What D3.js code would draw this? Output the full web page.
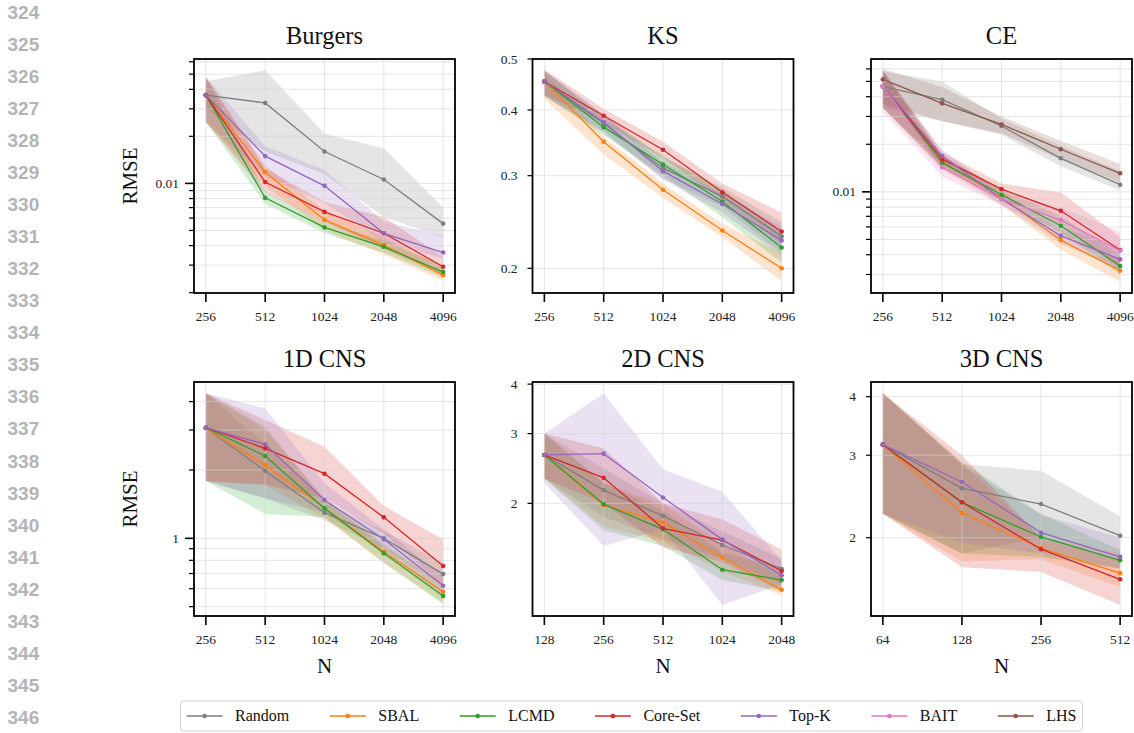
<!DOCTYPE html>
<html>
<head>
<meta charset="utf-8">
<script src="https://cdn.jsdelivr.net/npm/d3@7"></script>
<style>
  body { margin: 0; background: #fff; }
  svg { display: block; }
</style>
</head>
<body>
<svg id="fig" width="1134" height="733"></svg>
<script>
// ---- methods (legend order) ----
const methods = ["Random", "SBAL", "LCMD", "Core-Set", "Top-K", "BAIT", "LHS"];
const methodColors = ["#7f7f7f", "#ff7f0e", "#2ca02c", "#d62728", "#9467bd", "#e377c2", "#8c564b"];

const panelTitles = ["Burgers", "KS", "CE", "1D CNS", "2D CNS", "3D CNS"];

// ---- training-set sizes ----
const burgersN = [256, 512, 1024, 2048, 4096];
const ksN = [256, 512, 1024, 2048, 4096];
const ceN = [256, 512, 1024, 2048, 4096];
const cns1dN = [256, 512, 1024, 2048, 4096];
const cns2dN = [128, 256, 512, 1024, 2048];
const cns3dN = [64, 128, 256, 512];

// ---- RMSE: rows follow `methods`; null = method not run ----
const burgersMean = [
  [0.0367, 0.0327, 0.0160, 0.0106, 0.00553],
  [0.0367, 0.0118, 0.00584, 0.00403, 0.00259],
  [0.0367, 0.00808, 0.00523, 0.00393, 0.00271],
  [0.0367, 0.0102, 0.00657, 0.0048, 0.00293],
  [0.0367, 0.01495, 0.00965, 0.00479, 0.00361],
  null, null
];
const burgersLow = [
  [0.030, 0.016, 0.0115, 0.0061, 0.0045],
  [0.0247, 0.0097, 0.0050, 0.0035, 0.00238],
  [0.0247, 0.0074, 0.0048, 0.0036, 0.0025],
  [0.0247, 0.0087, 0.0057, 0.0038, 0.0026],
  [0.0247, 0.0112, 0.0075, 0.0042, 0.0033],
  null, null
];
const burgersHigh = [
  [0.045, 0.053, 0.0208, 0.0168, 0.0070],
  [0.048, 0.0130, 0.0067, 0.0045, 0.0029],
  [0.048, 0.0088, 0.0057, 0.0043, 0.0030],
  [0.048, 0.0125, 0.0076, 0.0061, 0.0034],
  [0.048, 0.0173, 0.0122, 0.0057, 0.0046],
  null, null
];

const ksMean = [
  [0.453, 0.377, 0.310, 0.274, 0.230],
  [0.453, 0.348, 0.282, 0.236, 0.200],
  [0.453, 0.371, 0.315, 0.268, 0.219],
  [0.453, 0.390, 0.336, 0.279, 0.235],
  [0.453, 0.379, 0.306, 0.265, 0.226],
  null, null
];
const ksLow = [
  [0.425, 0.362, 0.296, 0.262, 0.214],
  [0.420, 0.329, 0.272, 0.229, 0.189],
  [0.425, 0.358, 0.300, 0.250, 0.205],
  [0.428, 0.378, 0.324, 0.270, 0.222],
  [0.425, 0.365, 0.295, 0.255, 0.212],
  null, null
];
const ksHigh = [
  [0.475, 0.392, 0.325, 0.285, 0.245],
  [0.470, 0.356, 0.290, 0.243, 0.214],
  [0.475, 0.385, 0.328, 0.282, 0.235],
  [0.478, 0.402, 0.348, 0.290, 0.255],
  [0.475, 0.392, 0.318, 0.277, 0.240],
  null, null
];

const ceMean = [
  [0.0463, 0.0383, 0.0261, 0.0163, 0.0111],
  [0.0467, 0.0155, 0.0092, 0.00495, 0.00317],
  [0.0467, 0.0153, 0.00958, 0.0061, 0.00339],
  [0.0467, 0.0161, 0.0104, 0.00759, 0.00428],
  [0.0467, 0.01685, 0.0090, 0.00527, 0.00374],
  [0.0467, 0.0143, 0.0090, 0.00663, 0.00424],
  [0.0515, 0.0363, 0.0267, 0.0186, 0.0131]
];
const ceLow = [
  [0.034, 0.028, 0.023, 0.0145, 0.0102],
  [0.034, 0.0138, 0.0083, 0.0043, 0.0027],
  [0.034, 0.0140, 0.0088, 0.0055, 0.0030],
  [0.034, 0.0145, 0.0094, 0.0062, 0.0033],
  [0.034, 0.0150, 0.0083, 0.0047, 0.0032],
  [0.032, 0.0125, 0.0082, 0.0055, 0.0032],
  [0.036, 0.028, 0.0235, 0.016, 0.0115]
];
const ceHigh = [
  [0.058, 0.050, 0.029, 0.0195, 0.0135],
  [0.058, 0.0172, 0.0102, 0.0058, 0.0037],
  [0.058, 0.0168, 0.0105, 0.0070, 0.0040],
  [0.059, 0.0178, 0.0113, 0.0099, 0.0052],
  [0.058, 0.0185, 0.0098, 0.0060, 0.0044],
  [0.057, 0.0160, 0.0098, 0.0080, 0.0056],
  [0.060, 0.046, 0.030, 0.021, 0.0150]
];

const cns1dMean = [
  [3.07, 1.98, 1.297, 1.0, 0.696],
  [3.07, 2.10, 1.36, 0.873, 0.582],
  [3.07, 2.305, 1.355, 0.859, 0.557],
  [3.07, 2.49, 1.926, 1.237, 0.755],
  [3.07, 2.595, 1.475, 0.99, 0.618],
  null, null
];
const cns1dLow = [
  [1.79, 1.50, 1.20, 0.90, 0.62],
  [1.79, 1.72, 1.22, 0.78, 0.52],
  [1.79, 1.28, 1.245, 0.78, 0.513],
  [1.79, 1.72, 1.50, 1.05, 0.62],
  [1.79, 1.50, 1.30, 0.88, 0.56],
  null, null
];
const cns1dHigh = [
  [4.35, 2.60, 1.45, 1.08, 0.78],
  [4.35, 3.0, 1.50, 0.95, 0.64],
  [4.35, 3.1, 1.48, 0.93, 0.62],
  [4.35, 3.32, 2.53, 1.388, 0.99],
  [4.35, 3.74, 1.75, 1.10, 0.68],
  null, null
];

const cns2dMean = [
  [2.65, 2.16, 1.86, 1.57, 1.366],
  [2.65, 1.98, 1.79, 1.46, 1.21],
  [2.65, 1.99, 1.72, 1.36, 1.28],
  [2.65, 2.32, 1.73, 1.616, 1.35],
  [2.65, 2.67, 2.07, 1.62, 1.316],
  null, null
];
const cns2dLow = [
  [2.31, 1.85, 1.62, 1.45, 1.25],
  [2.31, 1.75, 1.60, 1.35, 1.17],
  [2.31, 1.71, 1.56, 1.28, 1.20],
  [2.31, 2.00, 1.55, 1.42, 1.20],
  [2.25, 1.56, 1.72, 1.107, 1.25],
  null, null
];
const cns2dHigh = [
  [3.0, 2.45, 2.0, 1.70, 1.45],
  [3.0, 2.25, 1.98, 1.58, 1.30],
  [3.0, 2.25, 1.92, 1.50, 1.38],
  [3.0, 2.75, 2.0, 1.82, 1.53],
  [3.0, 3.79, 2.44, 2.14, 1.43],
  null, null
];

const cns3dMean = [
  [3.16, 2.55, 2.36, 2.02],
  [3.16, 2.26, 1.90, 1.68],
  [3.16, 2.38, 2.007, 1.79],
  [3.16, 2.38, 1.89, 1.63],
  [3.16, 2.63, 2.05, 1.82],
  null, null
];
const cns3dLow = [
  [2.25, 1.85, 2.0, 1.85],
  [2.25, 1.78, 1.80, 1.57],
  [2.25, 1.85, 1.82, 1.72],
  [2.25, 1.73, 1.69, 1.436],
  [2.25, 1.95, 1.85, 1.72],
  null, null
];
const cns3dHigh = [
  [4.07, 2.87, 2.78, 2.22],
  [4.07, 2.88, 2.00, 1.80],
  [4.07, 2.90, 2.25, 1.88],
  [4.07, 3.0, 2.0, 1.85],
  [4.07, 2.85, 2.24, 2.0],
  null, null
];

// ---- y-axis ranges and labelled ticks ----
const burgersYDomain = [0.00199, 0.0625];
const ksYDomain = [0.1795, 0.5];
const ceYDomain = [0.00229, 0.0693];
const cns1dYDomain = [0.455, 4.88];
const cns2dYDomain = [1.039, 4.05];
const cns3dYDomain = [1.361, 4.30];

const burgersYLabels = [0.01];
const ksYLabels = [0.2, 0.3, 0.4, 0.5];
const ceYLabels = [0.01];
const cns1dYLabels = [1];
const cns2dYLabels = [2, 3, 4];
const cns3dYLabels = [2, 3, 4];

// ---- line numbers in the page margin ----
const lineNumbers = d3.range(324, 347);

// ================= drawing =================
const panels = [
  { title: panelTitles[0], n: burgersN, mean: burgersMean, low: burgersLow, high: burgersHigh, yDomain: burgersYDomain, yLabels: burgersYLabels },
  { title: panelTitles[1], n: ksN, mean: ksMean, low: ksLow, high: ksHigh, yDomain: ksYDomain, yLabels: ksYLabels },
  { title: panelTitles[2], n: ceN, mean: ceMean, low: ceLow, high: ceHigh, yDomain: ceYDomain, yLabels: ceYLabels },
  { title: panelTitles[3], n: cns1dN, mean: cns1dMean, low: cns1dLow, high: cns1dHigh, yDomain: cns1dYDomain, yLabels: cns1dYLabels },
  { title: panelTitles[4], n: cns2dN, mean: cns2dMean, low: cns2dLow, high: cns2dHigh, yDomain: cns2dYDomain, yLabels: cns2dYLabels },
  { title: panelTitles[5], n: cns3dN, mean: cns3dMean, low: cns3dLow, high: cns3dHigh, yDomain: cns3dYDomain, yLabels: cns3dYLabels }
];

const svg = d3.select("#fig");
const SERIF = "'Liberation Serif', 'Times New Roman', serif";
const colLeft = [194, 532.5, 871];
const rowTop = [59, 382];
const panelW = 261;
const panelH = 234;

// margin line numbers
svg.append("g")
  .selectAll("text")
  .data(lineNumbers)
  .join("text")
  .attr("x", 7.5)
  .attr("y", (d, i) => 12 + i * 32.05)
  .attr("dy", "0.36em")
  .attr("font-family", "'Liberation Sans', Arial, sans-serif")
  .attr("font-weight", "bold")
  .attr("font-size", 19)
  .attr("fill", "#b4b4b4")
  .text(d => d);

const fmtTick = v => d3.format("~g")(v);

panels.forEach((p, pi) => {
  const col = pi % 3, row = Math.floor(pi / 3);
  const left = colLeft[col], top = rowTop[row];
  const g = svg.append("g");

  // x: log2 spacing with 5% padding on each side
  const l0 = Math.log2(p.n[0]), l1 = Math.log2(p.n[p.n.length - 1]);
  const pad = 0.05 * (l1 - l0);
  const x = d3.scaleLog().base(2)
    .domain([Math.pow(2, l0 - pad), Math.pow(2, l1 + pad)])
    .range([left, left + panelW]);
  const y = d3.scaleLog()
    .domain(p.yDomain)
    .range([top + panelH, top]);

  // log ticks: decades (major) and 2..9 multiples (minor)
  const d0 = Math.floor(Math.log10(p.yDomain[0])), d1 = Math.ceil(Math.log10(p.yDomain[1]));
  const yTicks = [];
  for (let d = d0; d <= d1; d++) {
    for (let k = 1; k <= 9; k++) {
      const v = +(k * Math.pow(10, d)).toPrecision(6);
      if (v >= p.yDomain[0] * 0.999 && v <= p.yDomain[1] * 1.001) yTicks.push({ v, major: k === 1 });
    }
  }

  const clipId = "clip" + pi;
  g.append("clipPath").attr("id", clipId)
    .append("rect").attr("x", left).attr("y", top).attr("width", panelW).attr("height", panelH);

  const body = g.append("g").attr("clip-path", `url(#${clipId})`);

  // confidence bands
  const area = d3.area()
    .x(d => x(d.n))
    .y0(d => y(d.lo))
    .y1(d => y(d.hi));
  p.mean.forEach((m, mi) => {
    if (!m) return;
    const pts = p.n.map((n, i) => ({ n, lo: p.low[mi][i], hi: p.high[mi][i] }));
    body.append("path")
      .attr("d", area(pts))
      .attr("fill", methodColors[mi])
      .attr("fill-opacity", 0.2)
      .attr("stroke", "none");
  });

  // grid
  const grid = body.append("g").attr("stroke", "#d4d4d4").attr("stroke-width", 0.8).attr("stroke-opacity", 0.75);
  yTicks.forEach(t => {
    grid.append("line")
      .attr("x1", left).attr("x2", left + panelW)
      .attr("y1", y(t.v)).attr("y2", y(t.v));
  });
  p.n.forEach(n => {
    grid.append("line")
      .attr("x1", x(n)).attr("x2", x(n))
      .attr("y1", top).attr("y2", top + panelH);
  });

  // mean curves with markers
  const line = d3.line().x(d => x(d.n)).y(d => y(d.v));
  p.mean.forEach((m, mi) => {
    if (!m) return;
    const pts = p.n.map((n, i) => ({ n, v: m[i] }));
    body.append("path")
      .attr("d", line(pts))
      .attr("fill", "none")
      .attr("stroke", methodColors[mi])
      .attr("stroke-width", 1.3);
    body.append("g").selectAll("circle")
      .data(pts)
      .join("circle")
      .attr("cx", d => x(d.n))
      .attr("cy", d => y(d.v))
      .attr("r", 2.3)
      .attr("fill", methodColors[mi]);
  });

  // frame
  g.append("rect")
    .attr("x", left).attr("y", top)
    .attr("width", panelW).attr("height", panelH)
    .attr("fill", "none")
    .attr("stroke", "#000")
    .attr("stroke-width", 1.8);

  // y ticks
  yTicks.forEach(t => {
    const len = t.major ? 9 : 5;
    g.append("line")
      .attr("x1", left - len).attr("x2", left)
      .attr("y1", y(t.v)).attr("y2", y(t.v))
      .attr("stroke", "#000").attr("stroke-width", t.major ? 1.6 : 1.2);
  });
  p.yLabels.forEach(v => {
    g.append("text")
      .attr("x", left - 15)
      .attr("y", y(v))
      .attr("dy", "0.34em")
      .attr("text-anchor", "end")
      .attr("font-family", SERIF)
      .attr("font-size", 13.5)
      .attr("fill", "#222")
      .text(fmtTick(v));
  });

  // x ticks
  p.n.forEach(n => {
    g.append("line")
      .attr("x1", x(n)).attr("x2", x(n))
      .attr("y1", top + panelH).attr("y2", top + panelH + 9)
      .attr("stroke", "#000").attr("stroke-width", 1.6);
    g.append("text")
      .attr("x", x(n))
      .attr("y", top + panelH + 28)
      .attr("text-anchor", "middle")
      .attr("font-family", SERIF)
      .attr("font-size", 13.5)
      .attr("fill", "#222")
      .text(n);
  });

  // title
  g.append("text")
    .attr("x", left + panelW / 2)
    .attr("y", top - 15.5)
    .attr("text-anchor", "middle")
    .attr("font-family", SERIF)
    .attr("font-size", 24.5)
    .attr("fill", "#111")
    .text(p.title);

  if (col === 0) {
    g.append("text")
      .attr("transform", `translate(${left - 57},${top + panelH / 2}) rotate(-90)`)
      .attr("text-anchor", "middle")
      .attr("font-family", SERIF)
      .attr("font-size", 21)
      .attr("fill", "#111")
      .text("RMSE");
  }
  if (row === 1) {
    g.append("text")
      .attr("x", left + panelW / 2)
      .attr("y", top + panelH + 57)
      .attr("text-anchor", "middle")
      .attr("font-family", SERIF)
      .attr("font-size", 21)
      .attr("fill", "#111")
      .text("N");
  }
});

// ---- legend ----
const legend = svg.append("g");
const legendBox = legend.append("rect");
const handleLen = 36, textPad = 12.5, colSpacing = 40.5;
let cx = 0;
const items = legend.append("g");
methods.forEach((m, i) => {
  const it = items.append("g").attr("transform", `translate(${cx},0)`);
  it.append("line")
    .attr("x1", 0).attr("x2", handleLen)
    .attr("y1", 0).attr("y2", 0)
    .attr("stroke", methodColors[i]).attr("stroke-width", 1.5);
  it.append("circle")
    .attr("cx", handleLen / 2).attr("cy", 0).attr("r", 2.3)
    .attr("fill", methodColors[i]);
  const t = it.append("text")
    .attr("x", handleLen + textPad)
    .attr("y", 0)
    .attr("dy", "0.34em")
    .attr("font-family", SERIF)
    .attr("font-size", 16)
    .attr("fill", "#111")
    .text(m);
  const w = t.node().getComputedTextLength();
  cx += handleLen + textPad + w + colSpacing;
});
const contentW = cx - colSpacing;
const legendCenterX = 631.5, legendCenterY = 716;
items.attr("transform", `translate(${legendCenterX - contentW / 2},${legendCenterY})`);
legendBox
  .attr("x", legendCenterX - contentW / 2 - 6)
  .attr("y", legendCenterY - 15)
  .attr("width", contentW + 12)
  .attr("height", 30)
  .attr("rx", 3)
  .attr("fill", "#fff")
  .attr("stroke", "#d0d0d0")
  .attr("stroke-width", 1);
</script>
</body>
</html>
